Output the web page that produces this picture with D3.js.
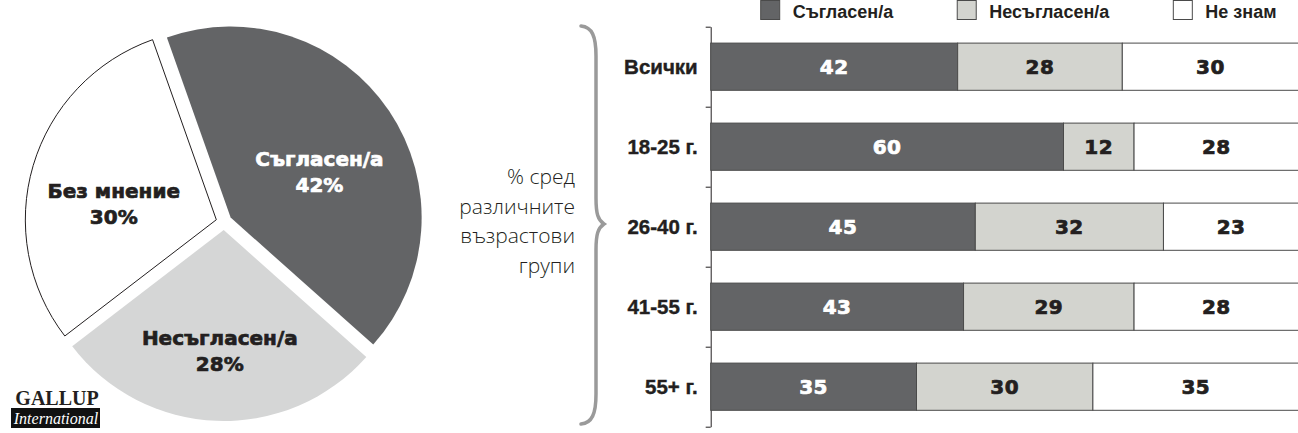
<!DOCTYPE html>
<html>
<head>
<meta charset="utf-8">
<script src="https://cdn.jsdelivr.net/npm/d3@7"></script>
<style>
  html, body { margin: 0; padding: 0; background: #fff; overflow: hidden; }
  svg { display: block; }
</style>
</head>
<body>
<div id="chart"></div>
<script>
// data
var pieNames  = ["Съгласен/а", "Несъгласен/а", "Без мнение"];
var pieValues = [42, 28, 30];

var groups    = ["Всички", "18-25 г.", "26-40 г.", "41-55 г.", "55+ г."];
var agree     = [42, 60, 45, 43, 35];
var disagree  = [28, 12, 32, 29, 30];
var dontKnow  = [30, 28, 23, 28, 35];
var seriesNames = ["Съгласен/а", "Несъгласен/а", "Не знам"];

var noteLines = ["% сред", "различните", "възрастови", "групи"];

// layout
var width = 1298, height = 433;
var dark = "#636466", lightBar = "#d3d4cf", lightPie = "#d5d6d6", ink = "#231f20";
var seriesColors = [dark, lightBar, "#ffffff"];
var boldFont = "'DejaVu Sans', sans-serif";

var svg = d3.select("#chart").append("svg")
  .attr("width", width)
  .attr("height", height);

////////////////////////////// PIE
var cx = 224, cy = 222, R = 191, explode = 8;
var start = -19.5 * Math.PI / 180;

var pie = d3.pie().sort(null).startAngle(start).endAngle(start + 2 * Math.PI);
var arcs = pie(pieValues);
var arc = d3.arc().innerRadius(0).outerRadius(R);
var labelArc = d3.arc().innerRadius(115).outerRadius(115);
var pieColors = [dark, lightPie, "#ffffff"];

var pg = svg.append("g").attr("transform", "translate(" + cx + "," + cy + ")");

pg.selectAll("path.slice")
  .data(arcs)
  .enter()
  .append("path")
    .attr("class", "slice")
    .attr("d", arc)
    .attr("transform", function(d) {
      var m = (d.startAngle + d.endAngle) / 2;
      return "translate(" + (explode * Math.sin(m)) + "," + (-explode * Math.cos(m)) + ")";
    })
    .attr("fill", function(d, i) { return pieColors[i]; })
    .attr("stroke", function(d, i) { return i == 2 ? ink : "none"; })
    .attr("stroke-width", 1);

var pl = pg.selectAll("text.plabel")
  .data(arcs)
  .enter()
  .append("text")
    .attr("class", "plabel")
    .attr("text-anchor", "middle")
    .style("font-family", boldFont)
    .style("font-weight", "bold")
    .style("font-size", "20px")
    .attr("fill", function(d, i) { return i == 0 ? "#ffffff" : ink; })
    .attr("stroke", function(d, i) { return i == 0 ? "#ffffff" : ink; })
    .attr("stroke-width", 0.7)
    .attr("transform", function(d) {
      var c = labelArc.centroid(d);
      return "translate(" + c[0] + "," + c[1] + ")";
    });
pl.append("tspan").attr("x", 0).attr("y", 8.5).text(function(d, i) { return pieNames[i]; });
pl.append("tspan").attr("x", 0).attr("y", 34.5).text(function(d) { return d.value + "%"; });

// logo
svg.append("text")
  .attr("x", 57).attr("y", 405)
  .attr("text-anchor", "middle")
  .style("font-family", "'Liberation Serif', serif")
  .style("font-weight", "bold")
  .style("font-size", "20px")
  .attr("fill", ink)
  .text("GALLUP");
svg.append("rect")
  .attr("x", 11).attr("y", 408).attr("width", 89).attr("height", 20)
  .attr("fill", "#111");
svg.append("text")
  .attr("x", 56).attr("y", 424)
  .attr("text-anchor", "middle")
  .style("font-family", "'Liberation Serif', serif")
  .style("font-style", "italic")
  .style("font-size", "16px")
  .attr("fill", "#fff")
  .text("International");

////////////////////////////// BRACE + NOTE
svg.append("path")
  .attr("d", "M581,26 C592,27 596,36 596,56 L596,198 C596,214 598,220 604,224 C598,228 596,234 596,250 L596,394 C596,414 592,423 581,424")
  .attr("fill", "none")
  .attr("stroke", "#9a9a9a")
  .attr("stroke-width", 3.5)
  .attr("stroke-linecap", "round");

svg.selectAll("text.note")
  .data(noteLines)
  .enter()
  .append("text")
    .attr("class", "note")
    .attr("x", 575)
    .attr("y", function(d, i) { return 184 + i * 29.5; })
    .attr("text-anchor", "end")
    .style("font-family", "'Open Sans', sans-serif")
    .style("font-weight", 300)
    .style("font-size", "21px")
    .attr("fill", ink)
    .text(function(d) { return d; });

////////////////////////////// BARS
var x0 = 710.7;
var x = d3.scaleLinear().domain([0, 100]).range([x0, x0 + 588]);
var y = d3.scaleBand().domain(groups).range([26.7, 426.7]).paddingInner(0.41).paddingOuter(0.205);
var yEdge = d3.scaleLinear().domain([0, groups.length]).range([26.7, 426.7]);

svg.append("g")
  .attr("transform", "translate(" + x0 + ",0)")
  .call(d3.axisLeft(yEdge).tickValues(d3.range(0, groups.length + 1)).tickFormat("").tickSize(5).tickSizeOuter(0))
  .call(function(g) { g.selectAll("path, line").attr("stroke", ink); });

var rows = groups.map(function(g, i) {
  var vals = [agree[i], disagree[i], dontKnow[i]];
  var acc = 0;
  return vals.map(function(v, k) {
    var seg = { group: g, k: k, v: v, x0: acc, x1: acc + v };
    acc += v;
    return seg;
  });
});
var segs = [].concat.apply([], rows);

svg.selectAll("rect.bar")
  .data(segs)
  .enter()
  .append("rect")
    .attr("class", "bar")
    .attr("x", function(d) { return x(d.x0); })
    .attr("y", function(d) { return y(d.group); })
    .attr("width", function(d) { return x(d.x1) - x(d.x0); })
    .attr("height", y.bandwidth())
    .attr("fill", function(d) { return seriesColors[d.k]; })
    .attr("stroke", "#4a4a4a")
    .attr("stroke-width", 1);

svg.selectAll("text.val")
  .data(segs)
  .enter()
  .append("text")
    .attr("class", "val")
    .attr("x", function(d) { return (x(d.x0) + x(d.x1)) / 2; })
    .attr("y", function(d) { return y(d.group) + y.bandwidth() / 2 + 7; })
    .attr("text-anchor", "middle")
    .style("font-family", boldFont)
    .style("font-weight", "bold")
    .style("font-size", "20px")
    .style("letter-spacing", "0.5px")
    .attr("fill", function(d) { return d.k == 0 ? "#ffffff" : ink; })
    .attr("stroke", function(d) { return d.k == 0 ? "#ffffff" : ink; })
    .attr("stroke-width", 0.7)
    .text(function(d) { return d.v; });

svg.selectAll("text.cat")
  .data(groups)
  .enter()
  .append("text")
    .attr("class", "cat")
    .attr("x", x0 - 13)
    .attr("y", function(d) { return y(d) + y.bandwidth() / 2 + 7.5; })
    .attr("text-anchor", "end")
    .style("font-family", "'Liberation Sans', Arial, sans-serif")
    .style("font-weight", "bold")
    .style("font-size", "20.5px")
    .attr("fill", ink)
    .attr("stroke", ink)
    .attr("stroke-width", 0.4)
    .text(function(d) { return d; });

// legend
var lx = 760.7;
seriesNames.forEach(function(name, i) {
  svg.append("rect")
    .attr("x", lx).attr("y", 0.5).attr("width", 19).attr("height", 19)
    .attr("fill", seriesColors[i])
    .attr("stroke", "#4a4a4a")
    .attr("stroke-width", 1);
  var t = svg.append("text")
    .attr("x", lx + 32).attr("y", 17.5)
    .style("font-family", "'Liberation Sans', Arial, sans-serif")
    .style("font-weight", "bold")
    .style("font-size", "18px")
    .attr("fill", ink)
    .text(name);
  lx = lx + 32 + t.node().getComputedTextLength() + 64;
});
</script>
</body>
</html>
